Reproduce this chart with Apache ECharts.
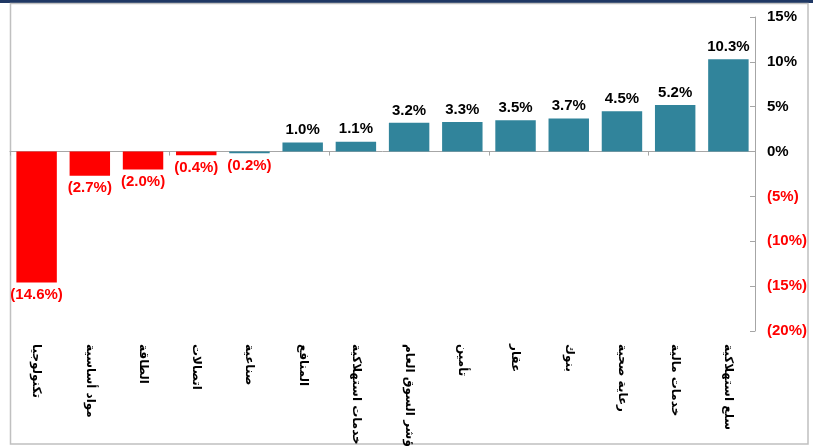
<!DOCTYPE html>
<html>
<head>
<meta charset="utf-8">
<script src="https://cdn.jsdelivr.net/npm/echarts@6/dist/echarts.min.js"></script>
<style>
  html, body { margin: 0; padding: 0; background: #fff; }
  #chart { width: 813px; height: 446px; }
</style>
</head>
<body>
<div id="chart"></div>
<script>
// sectors, left to right
const categories = ['تكنولوجيا', 'مواد أساسية', 'الطاقة', 'اتصالات', 'صناعية', 'المنافع', 'خدمات استهلاكية',
  'مؤشر السوق العام', 'تأمين', 'عقار', 'بنوك', 'رعاية صحية', 'خدمات مالية', 'سلع استهلاكية']
const values = [-14.6, -2.7, -2.0, -0.4, -0.2, 1.0, 1.1, 3.2, 3.3, 3.5, 3.7, 4.5, 5.2, 10.3]
const barColors = ['#ff0000', '#ff0000', '#ff0000', '#ff0000', '#31849b', '#31849b', '#31849b',
  '#31849b', '#31849b', '#31849b', '#31849b', '#31849b', '#31849b', '#31849b']
const yMin = -20
const yMax = 15
const yStep = 5

const fmtPct = (v, digits) => {
  let s = Math.abs(v).toFixed(digits) + '%'
  return v < 0 ? '(' + s + ')' : s
}

let chart = echarts.init(document.getElementById('chart'))

let barData = values.map((v, i) => ({
  value: v,
  itemStyle: {color: barColors[i]},
  label: {
    position: v < 0 ? 'bottom' : 'top',
    color: v < 0 ? '#ff0000' : '#000'
  }
}))

let option = {
  animation: false,
  textStyle: {fontFamily: 'Liberation Sans, Arial, sans-serif'},
  graphic: [
    {
      type: 'rect',
      shape: {x: 0, y: 0, width: 813, height: 3},
      style: {fill: '#1f3864'},
      silent: true
    },
    {
      type: 'rect',
      shape: {x: 10.5, y: 3.5, width: 797.5, height: 440.5},
      style: {fill: 'none', stroke: '#c0c0c0', lineWidth: 1.5},
      silent: true
    }
  ],
  grid: {left: 10, right: 58, top: 17, bottom: 115, containLabel: false, outerBoundsMode: 'none'},
  xAxis: [
    {
      type: 'category',
      data: categories,
      position: 'bottom',
      axisLine: {show: false, onZero: false},
      axisTick: {show: false},
      axisLabel: {
        interval: 0,
        rotate: -90,
        margin: 13,
        fontFamily: 'DejaVu Sans',
        fontWeight: 'bold',
        fontSize: 12,
        color: '#000'
      }
    },
    {
      type: 'category',
      data: categories,
      position: 'bottom',
      axisLine: {show: true, onZero: true, lineStyle: {color: '#a6a6a6', width: 1}},
      axisTick: {show: true, length: 4, lineStyle: {color: '#a6a6a6'}},
      axisLabel: {show: false}
    }
  ],
  yAxis: {
    type: 'value',
    position: 'right',
    min: yMin,
    max: yMax,
    interval: yStep,
    splitLine: {show: false},
    axisLine: {show: true, lineStyle: {color: '#a6a6a6', width: 1}},
    axisTick: {show: true, inside: true, length: 5, lineStyle: {color: '#a6a6a6'}},
    axisLabel: {
      margin: 12,
      fontWeight: 'bold',
      fontSize: 15,
      color: (v) => (Number(v) < 0 ? '#ff0000' : '#000'),
      formatter: (v) => fmtPct(v, 0)
    }
  },
  series: [
    {
      type: 'bar',
      xAxisIndex: 0,
      barWidth: '76%',
      data: barData,
      label: {
        show: true,
        fontWeight: 'bold',
        fontSize: 15,
        distance: 5,
        formatter: (p) => fmtPct(p.value, 1)
      }
    }
  ]
}
option && chart.setOption(option)
</script>
</body>
</html>
